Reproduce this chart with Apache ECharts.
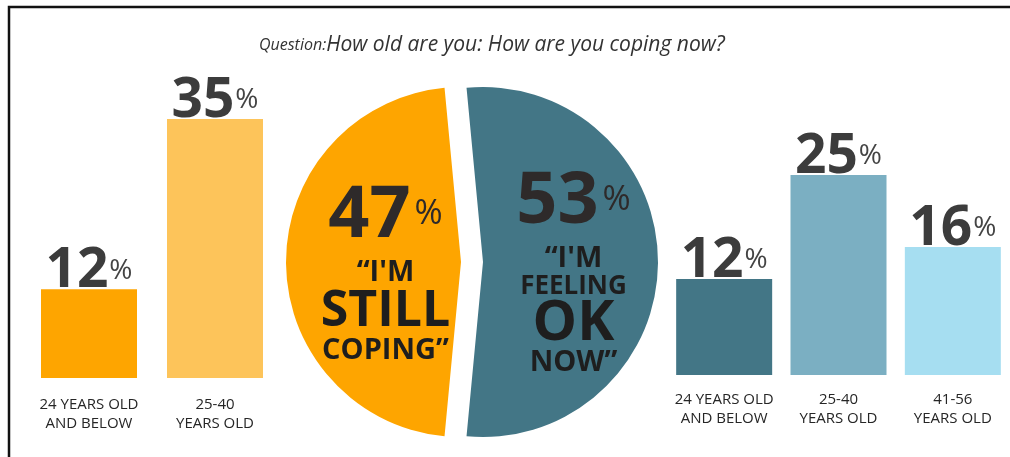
<!DOCTYPE html>
<html>
<head>
<meta charset="utf-8">
<script src="https://cdn.jsdelivr.net/npm/echarts@6/dist/echarts.min.js"></script>
<style>
  html, body { margin: 0; padding: 0; background: #fff; }
  #chart { width: 1010px; height: 457px; }
</style>
</head>
<body>
<div id="chart"></div>
<script>
// Survey: coping by age group
const titleLead = 'Question:';
const titleText = 'How old are you: How are you coping now?';

// Left: "still coping" by age
const copingAges = ['24 YEARS OLD\nAND BELOW', '25-40\nYEARS OLD'];
const copingValues = [12, 35];

// Right: "feeling ok now" by age
const okAges = ['24 YEARS OLD\nAND BELOW', '25-40\nYEARS OLD', '41-56\nYEARS OLD'];
const okValues = [12, 25, 16];

// Centre pie: overall split
const pieNames = ['“I\'M\nSTILL\nCOPING”', '“I\'M\nFEELING\nOK\nNOW”'];
const pieValues = [47, 53];

const ORANGE = '#fea500';
const ORANGE_LIGHT = '#fdc45a';
const TEAL = '#437686';
const TEAL_MID = '#7bafc2';
const TEAL_LIGHT = '#a6def1';

const NUM_FONT = "'Open Sans', 'Noto Sans', sans-serif";
const TXT_FONT = "'Open Sans', 'Noto Sans', sans-serif";

const valueLabel = {
  show: true,
  position: 'top',
  distance: -10,
  formatter: p => '{n|' + p.value + '}{p|%}',
  rich: {
    n: { fontFamily: NUM_FONT, fontWeight: 'bold', fontSize: 55, color: '#3c3c3c' },
    p: { fontFamily: TXT_FONT, fontSize: 28, color: '#444', padding: [0, 0, 2, 1] }
  }
};

const catLabel = {
  fontFamily: TXT_FONT,
  fontSize: 15,
  lineHeight: 19,
  color: '#262626'
};

const pieTotal = pieValues.reduce((a, b) => a + b, 0);

const option = {
  animation: false,
  backgroundColor: '#fff',
  title: {
    text: '{q|' + titleLead + '}{m|' + titleText + '}',
    left: 254,
    top: 30,
    textStyle: {
      rich: {
        q: { fontFamily: TXT_FONT, fontStyle: 'italic', fontWeight: 'normal', fontSize: 16, color: '#333' },
        m: { fontFamily: TXT_FONT, fontStyle: 'italic', fontWeight: 'normal', fontSize: 21, color: '#333' }
      }
    }
  },
  graphic: [{
    type: 'polyline',
    shape: { points: [[9, 457], [9, 7], [1010, 7]] },
    style: { stroke: '#111', lineWidth: 2.5, fill: null }
  }],
  grid: [
    { left: 26, width: 252, top: 82, height: 296 },
    { left: 667, width: 351, top: 55, height: 320 }
  ],
  xAxis: [
    {
      type: 'category', gridIndex: 0, data: copingAges,
      axisLine: { show: false }, axisTick: { show: false },
      axisLabel: Object.assign({ margin: 17, interval: 0 }, catLabel)
    },
    {
      type: 'category', gridIndex: 1, data: okAges,
      axisLine: { show: false }, axisTick: { show: false },
      axisLabel: Object.assign({ margin: 15, interval: 0 }, catLabel)
    }
  ],
  yAxis: [
    { type: 'value', gridIndex: 0, min: 0, max: 40, show: false },
    { type: 'value', gridIndex: 1, min: 0, max: 40, show: false }
  ],
  series: [
    {
      type: 'bar', xAxisIndex: 0, yAxisIndex: 0, barWidth: 96,
      data: copingValues.map((v, i) => ({
        value: v, itemStyle: { color: i === 0 ? ORANGE : ORANGE_LIGHT }
      })),
      label: valueLabel
    },
    {
      type: 'bar', xAxisIndex: 1, yAxisIndex: 1, barWidth: 96,
      data: okValues.map((v, i) => ({
        value: v, itemStyle: { color: [TEAL, TEAL_MID, TEAL_LIGHT][i] }
      })),
      label: valueLabel
    },
    {
      type: 'pie',
      center: [472, 262],
      radius: 175,
      clockwise: true,
      startAngle: 180 + (pieValues[0] / pieTotal) * 180,
      selectedMode: 'multiple',
      selectedOffset: 11,
      labelLine: { show: false },
      emphasis: { disabled: true },
      label: {
        show: true,
        position: 'inner',
        formatter: p => {
          const lines = p.name.split('\n');
          const styles = lines.length === 3 ? ['w', 'big', 'w'] : ['w', 'w2', 'big2', 'w'];
          return '{num|' + p.value + '}{pct|%}\n' +
            lines.map((l, i) => '{' + styles[i] + '|' + l + '}').join('\n');
        },
        rich: {
          num: { fontFamily: NUM_FONT, fontWeight: 'bold', fontSize: 72, color: '#2e2a2a', lineHeight: 84 },
          pct: { fontFamily: TXT_FONT, fontSize: 34, color: '#2e2a2a', padding: [0, 0, 4, 4] },
          w: { fontFamily: TXT_FONT, fontWeight: 'bold', fontSize: 29, color: '#1e1e1e', lineHeight: 30 },
          w2: { fontFamily: TXT_FONT, fontWeight: 'bold', fontSize: 26, color: '#1e1e1e', lineHeight: 26 },
          big: { fontFamily: TXT_FONT, fontWeight: 'bold', fontSize: 50, color: '#1e1e1e', lineHeight: 48 },
          big2: { fontFamily: TXT_FONT, fontWeight: 'bold', fontSize: 56, color: '#1e1e1e', lineHeight: 48 }
        }
      },
      data: pieValues.map((v, i) => ({
        value: v,
        name: pieNames[i],
        selected: true,
        itemStyle: { color: i === 0 ? ORANGE : TEAL },
        label: { padding: i === 0 ? [16, 0, 0, 30] : [14, 0, 0, 0] }
      }))
    }
  ]
};

const chart = echarts.init(document.getElementById('chart'), null, { renderer: 'canvas' });
chart.setOption(option);
</script>
</body>
</html>
